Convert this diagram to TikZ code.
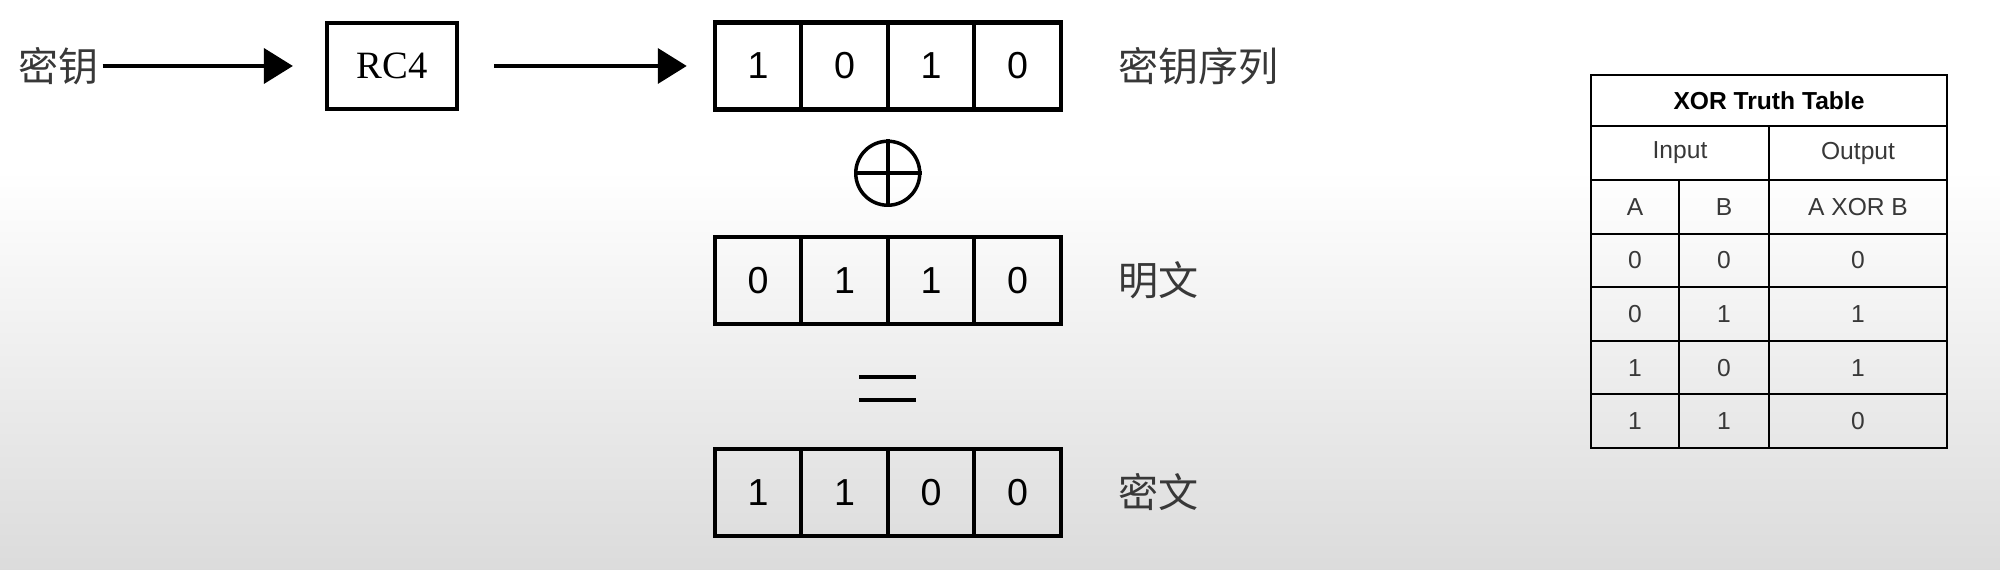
\documentclass[tikz,border=0pt]{standalone}
\usepackage{fontspec}
\setmainfont{Liberation Serif}
\newfontfamily\cjkfont{Noto Sans CJK SC}
\newfontfamily\numfont{Liberation Sans}
\usetikzlibrary{arrows.meta, positioning, calc}
\definecolor{inkgray}{HTML}{383838}
\definecolor{bggray}{HTML}{D6D6D6}

\begin{document}
\begin{tikzpicture}[
   bit/.style={draw, line width=1.2pt, minimum width=8.65mm, minimum height=8.7mm, outer sep=0pt, inner sep=0pt,
               font=\numfont\fontsize{10.7}{12}\selectfont},
   cjk/.style={inner sep=0pt, text=inkgray, font=\cjkfont\fontsize{11.4}{13}\selectfont},
   tcell/.style={draw, line width=0.6pt, minimum height=5.36mm, outer sep=0pt, inner sep=0pt, text=inkgray,
                 font=\numfont\fontsize{7}{8}\selectfont},
   acol/.style={tcell, minimum width=8.8mm},
   bcol/.style={tcell, minimum width=9mm},
   xcol/.style={tcell, minimum width=17.8mm},
   flow/.style={-{Triangle[length=2.9mm, width=3.5mm]}, line width=1.1pt}]
  % page and backdrop
  \useasboundingbox (0,0) rectangle (20,-5.7);
  \begin{scope}
    \clip (0,0) rectangle (20,-5.7);
    \fill[white] (0,0) rectangle (20,-5.7);
    \shade[top color=white, bottom color=bggray] (0,-1.7) rectangle (20,-6.3);
  \end{scope}

  % key -> RC4
  \node[cjk, anchor=west] (key) at (0.18,-0.66) {密钥};
  \node[draw, line width=1.2pt, minimum width=13mm, minimum height=8.6mm,
        font=\fontsize{11}{13}\selectfont] (rc4) at (3.92,-0.66) {RC4};

  % keystream
  \node[bit] (k1) at (7.58,-0.66) {1};
  \node[bit, right=0pt of k1] (k2) {0};
  \node[bit, right=0pt of k2] (k3) {1};
  \node[bit, right=0pt of k3] (k4) {0};
  \node[cjk, right=5.7mm of k4] (ks) {密钥序列};

  % plaintext
  \node[bit] (p1) at (7.58,-2.805) {0};
  \node[bit, right=0pt of p1] (p2) {1};
  \node[bit, right=0pt of p2] (p3) {1};
  \node[bit, right=0pt of p3] (p4) {0};
  \node[cjk, right=5.7mm of p4] (pt) {明文};

  % ciphertext
  \node[bit] (c1) at (7.58,-4.925) {1};
  \node[bit, right=0pt of c1] (c2) {1};
  \node[bit, right=0pt of c2] (c3) {0};
  \node[bit, right=0pt of c3] (c4) {0};
  \node[cjk, right=5.7mm of c4] (ct) {密文};

  \draw[flow, shorten <=0.3mm, shorten >=3.2mm] (key.east) -- (rc4.west);
  \draw[flow, shorten <=3.5mm, shorten >=2.8mm] (rc4.east) -- (k1.west);

  % xor and equals signs
  \node[draw, circle, line width=1pt, minimum size=6.4mm, inner sep=0pt] (xor)
       at ($(k2.south east)!0.5!(p2.north east)$) {};
  \draw[line width=1pt] (xor.north) -- (xor.south) (xor.west) -- (xor.east);
  \coordinate (eq) at ($(p2.south east)!0.5!(c2.north east)+(0,-0.02)$);
  \draw[line width=1.2pt] ([xshift=-2.85mm, yshift=1.15mm]eq) -- ++(5.7mm,0)
                          ([xshift=-2.85mm, yshift=-1.15mm]eq) -- ++(5.7mm,0);

  % truth table
  \node[tcell, minimum width=35.6mm, minimum height=5.1mm, text=black,
        font=\numfont\bfseries\fontsize{7}{8}\selectfont] (ttl) at (17.69,-1.005) {XOR Truth Table};
  \node[xcol, minimum height=5.4mm, below right=0pt and 0pt of ttl.south west] (inp) {Input};
  \node[xcol, minimum height=5.4mm, right=0pt of inp] (outp) {Output};
  \node[acol, below right=0pt and 0pt of inp.south west] (ha) {A};
  \node[bcol, right=0pt of ha] (hb) {B};
  \node[xcol, right=0pt of hb] (hx) {A XOR B};
  \node[acol, below=0pt of ha] (a1) {0};
  \node[bcol, right=0pt of a1] (b1) {0};
  \node[xcol, right=0pt of b1] (x1) {0};
  \node[acol, below=0pt of a1] (a2) {0};
  \node[bcol, right=0pt of a2] (b2) {1};
  \node[xcol, right=0pt of b2] (x2) {1};
  \node[acol, below=0pt of a2] (a3) {1};
  \node[bcol, right=0pt of a3] (b3) {0};
  \node[xcol, right=0pt of b3] (x3) {1};
  \node[acol, below=0pt of a3] (a4) {1};
  \node[bcol, right=0pt of a4] (b4) {1};
  \node[xcol, right=0pt of b4] (x4) {0};
\end{tikzpicture}
\end{document}
